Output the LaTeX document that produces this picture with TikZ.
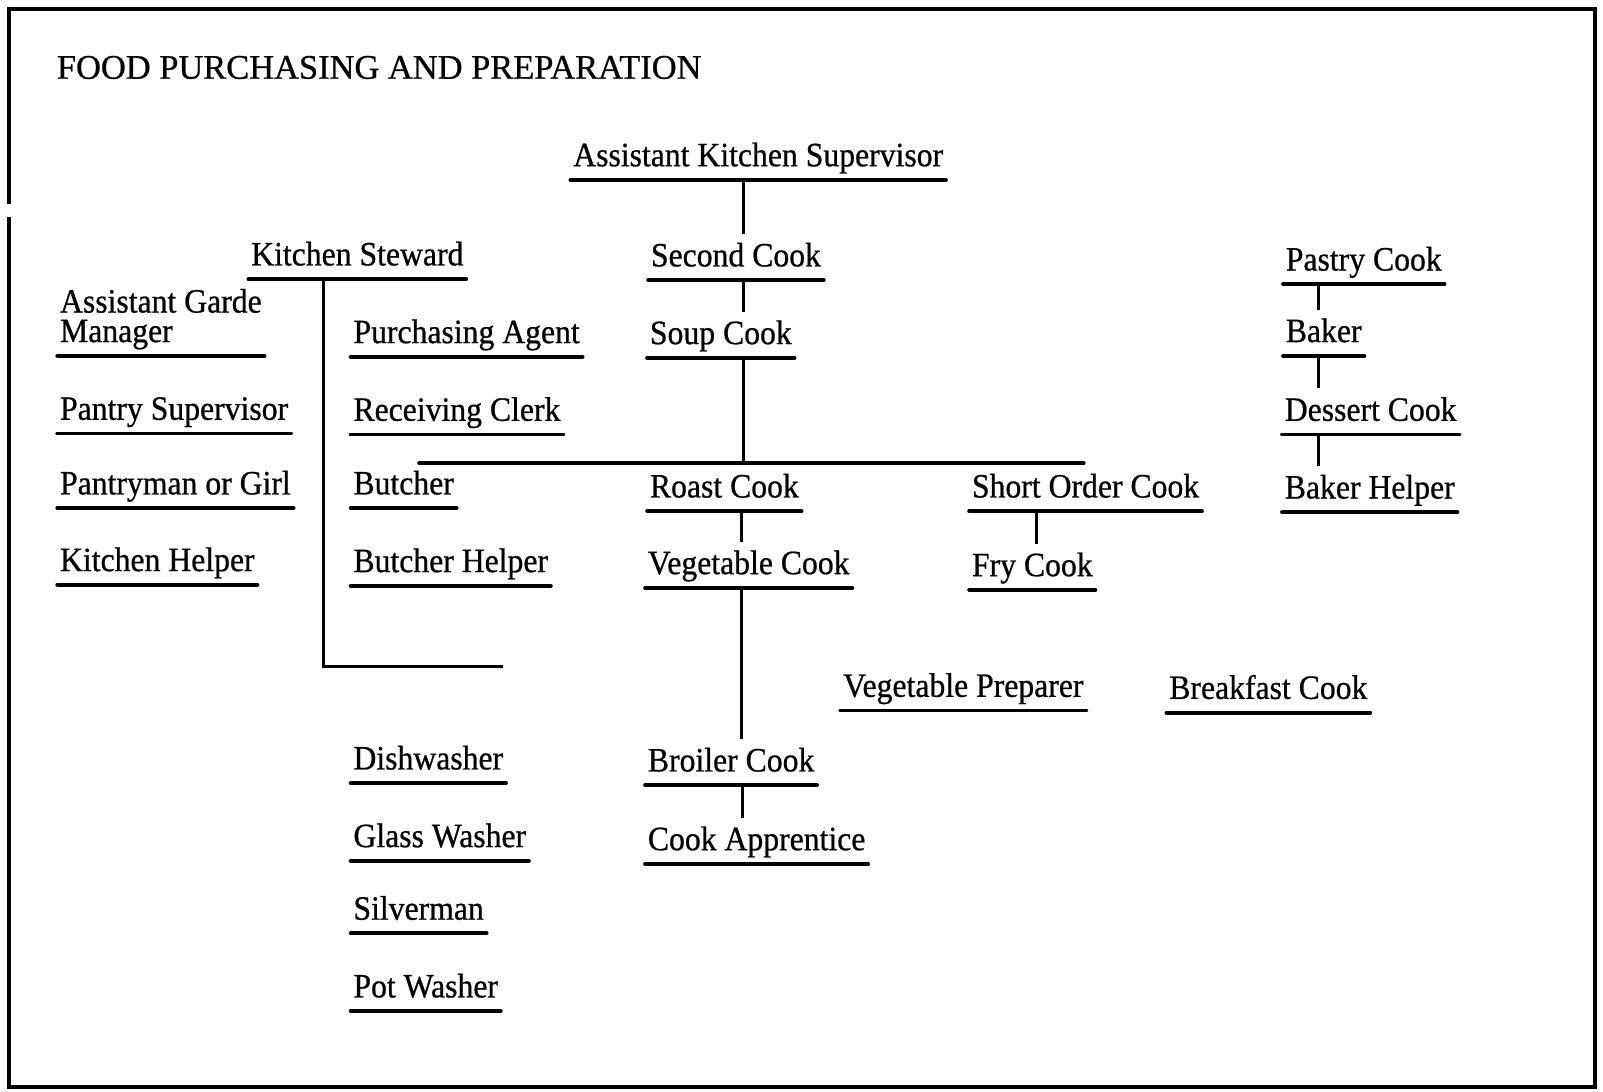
\documentclass[tikz,border=0pt]{standalone}
\usepackage{fontspec}
\setmainfont{Liberation Serif}
\newfontfamily\jobfont{Liberation Serif}[FakeStretch=0.93,
  BoldFont=*, BoldFeatures={FakeBold=0.7}]
\newfontfamily\headfont{Liberation Serif}[BoldFont=*, BoldFeatures={FakeBold=0.7}]
\tikzset{
  job/.style={anchor=south west, inner xsep=0.6pt, inner ysep=0pt,
    text height=0.317cm, text depth=0.13cm,
    font=\jobfont\bfseries\fontsize{9.7}{8.4}\selectfont},
  uline/.style={line width=1.1pt, line cap=round},
  link/.style={line width=0.85pt},
  bar/.style={line width=1.1pt, line cap=round},
  frame/.style={line width=1.2pt}
}
\begin{document}
\begin{tikzpicture}[x=0.010223cm, y=-0.010223cm]
  \useasboundingbox (0,0) rectangle (1568,1068);
  \draw[frame] (9,200) |- (1560,9) |- (9,1063) -- (9,212);
  \node[anchor=base west, inner sep=0pt, font=\headfont\bfseries\fontsize{9.8}{12}\selectfont]
    (title) at (55,77) {FOOD PURCHASING AND PREPARATION};
  % kitchen line
  \node[job] (aks) at (558,176) {Assistant Kitchen Supervisor};
  \node[job] (sc) at (634,274) {Second Cook};
  \node[job] (soup) at (633,350) {Soup Cook};
  \node[job] (roast) at (633,500) {Roast Cook};
  \node[job] (veg) at (631,575) {Vegetable Cook};
  \node[job] (broil) at (631,768) {Broiler Cook};
  \node[job] (appr) at (631,845) {Cook Apprentice};
  \node[job] (short) at (948,500) {Short Order Cook};
  \node[job] (fry) at (948,577) {Fry Cook};
  \node[job] (vprep) at (822,695) {Vegetable Preparer};
  \node[job] (bfast) at (1141,697) {Breakfast Cook};
  % pastry
  \node[job] (pastry) at (1255,278) {Pastry Cook};
  \node[job] (baker) at (1255,348) {Baker};
  \node[job] (dessert) at (1254,425) {Dessert Cook};
  \node[job] (bhelp) at (1254,501) {Baker Helper};
  % steward and pantry
  \node[job] (steward) at (243,273) {Kitchen Steward};
  \node[job, align=left] (garde) at (56,348) {Assistant Garde\\Manager};
  \node[job] (pantsup) at (56,424) {Pantry Supervisor};
  \node[job] (pantry) at (56,497) {Pantryman or Girl};
  \node[job] (khelp) at (56,572) {Kitchen Helper};
  \node[job] (purch) at (343,349) {Purchasing Agent};
  \node[job] (recv) at (343,425) {Receiving Clerk};
  \node[job] (butch) at (343,497) {Butcher};
  \node[job] (bhelper) at (343,573) {Butcher Helper};
  \node[job] (dish) at (343,766) {Dishwasher};
  \node[job] (glass) at (343,842) {Glass Washer};
  \node[job] (silver) at (343,913) {Silverman};
  \node[job] (pot) at (343,989) {Pot Washer};

  \foreach \n in {aks,sc,soup,roast,veg,broil,appr,short,fry,vprep,bfast,
    pastry,baker,dessert,bhelp,steward,garde,pantsup,pantry,khelp,
    purch,recv,butch,bhelper,dish,glass,silver,pot}
    \draw[uline] (\n.south west) -- (\n.south east);

  \foreach \a/\b/\x in {aks/sc/727, sc/soup/727, roast/veg/725, veg/broil/725,
    broil/appr/726, short/fry/1014, pastry/baker/1290, baker/dessert/1290,
    dessert/bhelp/1290}
    \draw[link] (\a.south -| \x,0) -- (\b.north -| \x,0);

  \coordinate (barl) at (410,453);
  \coordinate (barr) at (1060,453);
  \draw[bar] (barl) -- (barr);
  \draw[link] (soup.south -| 727,0) -- (barl -| 727,0);
  \coordinate (stend) at (492,652);
  \draw[link] (steward.south -| 316,0) |- (stend);
\end{tikzpicture}
\end{document}
